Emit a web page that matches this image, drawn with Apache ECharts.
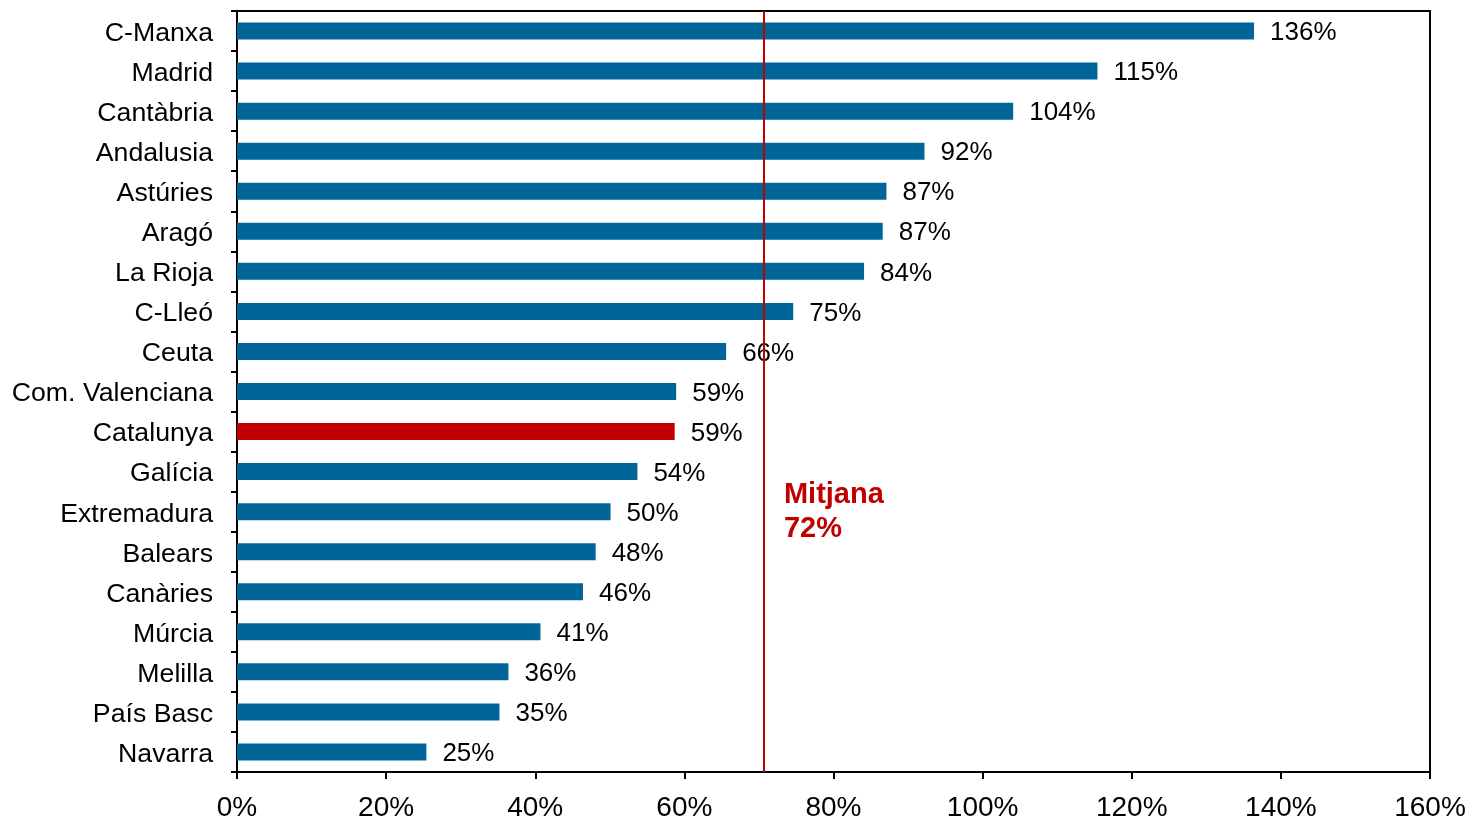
<!DOCTYPE html>
<html>
<head>
<meta charset="utf-8">
<script src="https://cdn.jsdelivr.net/npm/echarts@6/dist/echarts.min.js"></script>
<style>
  html, body { margin: 0; padding: 0; background: #fff; }
  #chart { width: 1469px; height: 822px; }
</style>
</head>
<body>
<div id="chart"></div>
<script>
// comunitats, de dalt a baix
const regions = [
  "C-Manxa", "Madrid", "Cantàbria", "Andalusia", "Astúries", "Aragó",
  "La Rioja", "C-Lleó", "Ceuta", "Com. Valenciana", "Catalunya", "Galícia",
  "Extremadura", "Balears", "Canàries", "Múrcia", "Melilla", "País Basc", "Navarra"
];
const values = [
  136.4, 115.4, 104.1, 92.2, 87.1, 86.6,
  84.1, 74.6, 65.6, 58.9, 58.7, 53.7,
  50.1, 48.1, 46.4, 40.7, 36.4, 35.2, 25.4
];
const highlight = "Catalunya";
const meanValue = 70.6;          // posició de la línia
const meanText = "Mitjana\n72%"; // etiqueta tal com surt
const xTicks = [0, 20, 40, 60, 80, 100, 120, 140, 160];

const fontFamily = "'Liberation Sans', Arial, sans-serif";
const blue = "#006699";
const red = "#c00000";

const chart = echarts.init(document.getElementById("chart"));

chart.setOption({
  animation: false,
  textStyle: { fontFamily: fontFamily },
  grid: {
    left: 237,
    right: 39,
    top: 11,
    bottom: 49,
    show: true,
    borderColor: "#000",
    borderWidth: 2,
  },
  xAxis: {
    type: "value",
    min: xTicks[0],
    max: xTicks[xTicks.length - 1],
    interval: 20,
    axisLine: { show: true, lineStyle: { color: "#000", width: 2 } },
    axisTick: { show: true, length: 7, lineStyle: { color: "#000", width: 2 } },
    splitLine: { show: false },
    axisLabel: {
      color: "#000",
      fontSize: 28,
      margin: 22,
      formatter: "{value}%",
    },
  },
  yAxis: {
    type: "category",
    inverse: true,
    data: regions,
    axisLine: { show: true, lineStyle: { color: "#000", width: 2 } },
    axisTick: { show: true, length: 6, lineStyle: { color: "#000", width: 2 } },
    axisLabel: {
      margin: 24,
      formatter: "{n|{value}}",
      rich: { n: { color: "#000", fontSize: 26.7, padding: [5, 0, 0, 0] } },
    },
  },
  series: [
    {
      type: "bar",
      barWidth: 17,
      data: values.map((v, i) => ({
        value: v,
        itemStyle: { color: regions[i] === highlight ? red : blue },
      })),
      label: {
        show: true,
        position: "right",
        distance: 16,
        offset: [0, 2],
        color: "#000",
        fontSize: 26,
        formatter: (p) => Math.round(p.value) + "%",
      },
      markLine: {
        silent: true,
        symbol: "none",
        lineStyle: { color: red, width: 2, type: "solid" },
        label: { show: false },
        data: [{ xAxis: meanValue }],
      },
      markPoint: {
        silent: true,
        symbol: "circle",
        symbolSize: 1,
        itemStyle: { color: "rgba(0,0,0,0)" },
        label: {
          show: true,
          position: "right",
          distance: 20,
          color: red,
          fontSize: 29,
          fontWeight: "bold",
          lineHeight: 34,
          align: "left",
          formatter: meanText,
        },
        data: [{ coord: [meanValue, "Extremadura"] }],
      },
      z: 3,
    },
  ],
});
</script>
</body>
</html>
